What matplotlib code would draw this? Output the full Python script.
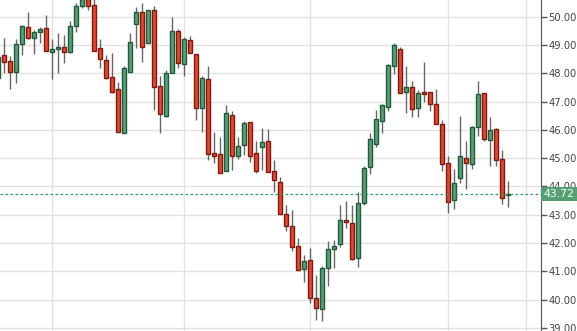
import matplotlib
matplotlib.use("Agg")
import matplotlib.pyplot as plt
import matplotlib.transforms as mtransforms
from matplotlib.patches import Rectangle

# OHLC values
opens = [47.82, 48.65, 48.44, 48.04, 49.02, 49.62, 49.24, 49.45, 49.59, 48.76,
         48.85, 48.94, 48.76, 49.67, 50.38, 50.62, 50.41, 48.88, 48.47, 47.86,
         47.44, 45.90, 48.06, 49.73, 50.15, 49.06, 50.24, 47.55, 46.50, 48.00,
         49.49, 48.32, 49.18, 48.68, 46.76, 47.80, 45.18, 45.15, 44.53, 46.53,
         45.06, 45.45, 46.27, 45.18, 45.41, 45.59, 44.56, 44.14, 43.02, 42.59,
         41.88, 41.08, 41.39, 40.06, 39.67, 41.12, 41.79, 41.96, 42.82, 42.71,
         41.47, 43.41, 44.68, 45.49, 46.30, 46.82, 48.24, 48.85, 47.35, 47.51,
         46.76, 47.33, 47.33, 46.91, 46.20, 44.82, 43.53, 44.29, 45.00, 44.79,
         46.09, 47.29, 45.65, 46.02, 44.96, 43.69]
highs = [48.62, 49.24, 48.60, 49.20, 49.70, 50.15, 49.53, 49.65, 50.06, 49.20,
         49.41, 49.35, 49.86, 50.47, 50.70, 50.70, 50.70, 49.20, 48.65, 48.70,
         47.70, 48.24, 49.41, 50.35, 50.47, 50.24, 50.38, 47.90, 48.12, 49.98,
         49.55, 49.29, 49.32, 48.68, 47.91, 48.24, 45.94, 45.76, 46.88, 46.65,
         45.76, 46.30, 46.27, 45.62, 46.08, 46.04, 44.94, 44.32, 43.35, 43.15,
         42.18, 41.59, 41.82, 40.88, 41.18, 42.06, 42.09, 43.35, 43.47, 43.35,
         43.79, 44.73, 45.88, 46.71, 46.92, 48.33, 49.08, 48.92, 48.26, 47.71,
         47.41, 48.41, 47.33, 47.44, 46.35, 45.06, 44.61, 46.49, 45.59, 46.14,
         47.71, 47.29, 46.47, 46.06, 45.29, 44.18]
lows = [47.75, 48.00, 47.44, 47.67, 48.65, 49.20, 48.68, 49.06, 48.80, 47.79,
        48.00, 48.35, 48.73, 49.47, 50.30, 50.25, 48.78, 48.18, 47.80, 47.32,
        45.94, 45.88, 48.06, 48.88, 48.41, 49.06, 46.70, 45.88, 46.47, 48.00,
        48.18, 47.91, 48.70, 46.35, 45.94, 44.92, 44.82, 44.47, 44.53, 44.59,
        44.96, 45.12, 44.88, 44.47, 44.59, 44.51, 43.79, 43.02, 42.41, 41.71,
        41.04, 40.61, 39.88, 39.29, 39.24, 40.49, 41.12, 41.86, 42.53, 41.41,
        41.15, 43.35, 44.45, 45.38, 45.88, 46.65, 47.98, 47.32, 46.61, 46.47,
        46.45, 47.00, 46.65, 46.21, 44.53, 43.06, 43.20, 44.12, 43.91, 44.61,
        45.79, 45.59, 44.71, 44.73, 43.39, 43.27]
closes = [48.59, 48.41, 48.06, 49.02, 49.67, 49.24, 49.45, 49.55, 48.80, 48.85,
          48.94, 48.74, 49.67, 50.38, 50.62, 50.38, 48.80, 48.50, 47.82, 47.35,
          45.94, 48.18, 49.12, 50.15, 48.92, 50.24, 47.53, 46.55, 48.00, 49.49,
          48.35, 49.20, 48.71, 46.76, 47.82, 45.14, 45.06, 44.49, 46.59, 45.06,
          45.44, 46.24, 45.09, 44.53, 45.56, 44.51, 44.21, 43.02, 42.59, 41.86,
          41.04, 41.35, 40.06, 39.71, 41.12, 41.79, 41.91, 42.82, 42.73, 41.44,
          43.41, 44.65, 45.67, 46.38, 46.88, 48.29, 49.00, 47.32, 47.51, 46.73,
          47.32, 47.26, 46.92, 46.21, 44.80, 43.45, 44.12, 45.08, 44.82, 46.09,
          47.26, 45.67, 46.00, 44.94, 43.59, 43.72]

last_price = 43.72
price_ticks = [39, 40, 41, 42, 43, 44, 45, 46, 47, 48, 49, 50]
month_starts = [9, 31, 52, 75, 88]

up_fill, up_edge = "#5c9e7a", "#1d5c38"
down_fill, down_edge = "#e3482f", "#7e1a10"

fig = plt.figure(figsize=(5.77, 3.31), dpi=100)
ax = fig.add_axes([0, 0, 541 / 577, 1])

x = list(range(len(opens)))
ax.vlines(x, lows, highs, color="#666666", linewidth=1, zorder=2)

bottoms = [min(o, c) for o, c in zip(opens, closes)]
heights = [max(abs(c - o), 0.02) for o, c in zip(opens, closes)]
fills = [up_fill if c >= o else down_fill for o, c in zip(opens, closes)]
edges = [up_edge if c >= o else down_edge for o, c in zip(opens, closes)]
ax.bar(x, heights, bottom=bottoms, width=0.7, color=fills,
       edgecolor=edges, linewidth=1, zorder=3)

# grid
for v in price_ticks:
    ax.axhline(v, color="#e2e2e2", linewidth=1, zorder=0)
for m in month_starts:
    ax.axvline(m, color="#e2e2e2", linewidth=1, zorder=0)

# current price line
ax.axhline(last_price, color="#2e9a68", linewidth=0.9,
           linestyle=(0, (2, 2)), zorder=4)

ax.set_xlim(0.28, 90.45)
ax.set_ylim(38.89, 50.59)

for side in ["left", "top", "bottom"]:
    ax.spines[side].set_visible(False)
ax.spines["right"].set_color("#555555")
ax.set_xticks([])
ax.yaxis.tick_right()
ax.set_yticks(price_ticks)
ax.set_yticklabels(["%.2f" % v for v in price_ticks])
ax.tick_params(axis="y", length=4, width=1, color="#555555",
               labelcolor="#444444", labelsize=7.2, pad=1.5)

# price label box on the axis
trans = mtransforms.blended_transform_factory(ax.transAxes, ax.transData)
box_h = 14 / 28.3
ax.add_patch(Rectangle((1.0, last_price - box_h / 2), 36 / 541, box_h,
                       transform=trans, clip_on=False,
                       facecolor="#55a073", edgecolor="none", zorder=6))
ax.text(1.0 + 18 / 541, last_price, "%.2f" % last_price, transform=trans,
        ha="center", va="center", color="white", fontsize=7.8,
        clip_on=False, zorder=7)

fig.savefig("out.png", dpi=100)
plt.close()
